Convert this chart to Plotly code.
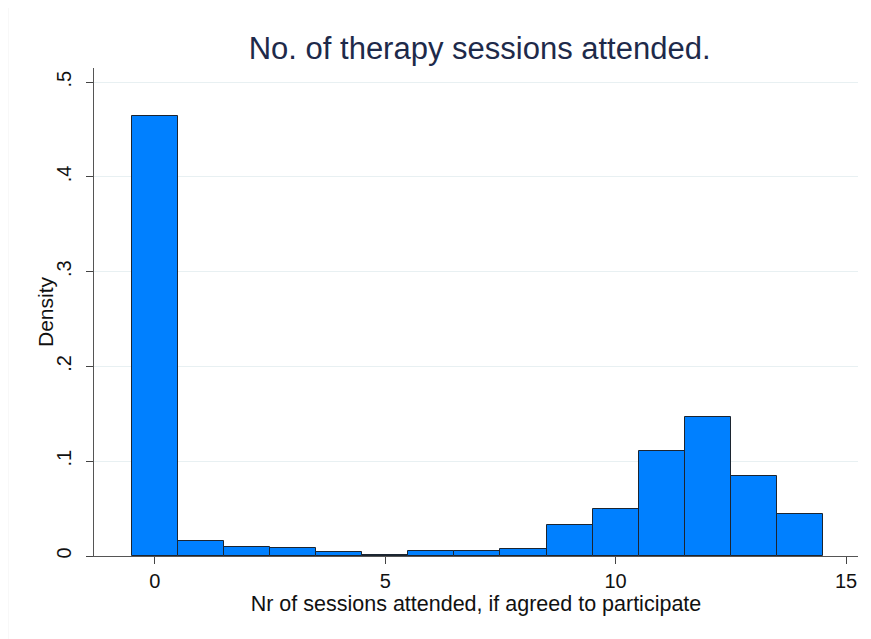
import plotly.graph_objects as go

sessions = [0, 1, 2, 3, 4, 5, 6, 7, 8, 9, 10, 11, 12, 13, 14]
density = [0.464, 0.0158, 0.0095, 0.0084, 0.0042, 0.0015, 0.0053, 0.0053,
           0.0074, 0.0325, 0.0500, 0.1110, 0.1463, 0.0848, 0.0443]
y_ticks = [0, 0.1, 0.2, 0.3, 0.4, 0.5]
y_tick_labels = ["0", ".1", ".2", ".3", ".4", ".5"]
x_ticks = [0, 5, 10, 15]

fig = go.Figure()
fig.add_trace(go.Bar(
    x=sessions, y=density, width=1,
    marker=dict(color="#0080FF", line=dict(color="#1c2530", width=1)),
))

font_fam = "Liberation Sans, Arial, sans-serif"
# page body has an 8px margin, so the figure is sized/offset to compensate
fig.update_layout(
    width=863, height=631,
    margin=dict(l=86, r=13, t=60, b=83),
    paper_bgcolor="white", plot_bgcolor="white",
    showlegend=False,
    bargap=0,
    title=dict(text="No. of therapy sessions attended.", x=0.5465, xanchor="center",
               y=1 - 40/631, yref="container", yanchor="middle",
               font=dict(family=font_fam, size=31, color="#1e2a4a")),
    font=dict(family=font_fam, color="#111111"),
)
fig.update_xaxes(
    range=[-1.32, 15.26], tickvals=x_ticks, ticks="outside", ticklen=7,
    tickcolor="#444444", tickwidth=1, showgrid=False, zeroline=False,
    showline=True, linecolor="#555555", linewidth=1,
    tickfont=dict(size=20, color="#111111"),
    title=dict(text="Nr of sessions attended, if agreed to participate",
               font=dict(size=21.5, color="#111111"), standoff=0),
)
fig.update_yaxes(
    range=[0, 0.515], tickvals=y_ticks, ticktext=y_tick_labels, ticks="outside",
    ticklen=7, tickcolor="#444444", tickwidth=1, tickangle=-90,
    ticklabelstandoff=7,
    showgrid=True, gridcolor="#e8f0f2", gridwidth=1, zeroline=False,
    showline=True, linecolor="#555555", linewidth=1,
    tickfont=dict(size=20, color="#111111"),
)
fig.add_annotation(text="Density", xref="paper", yref="paper",
                   x=(45 - 94) / 764, y=0.5, xanchor="center", yanchor="middle",
                   textangle=-90, showarrow=False,
                   font=dict(size=21, color="#111111", family=font_fam))
fig.add_shape(type="rect", xref="paper", yref="paper",
              x0=(8 - 94) / 764, x1=1 + 40/764, y0=-120/488, y1=1 + 61/488,
              line=dict(color="#f2f2f2", width=1), fillcolor="rgba(0,0,0,0)",
              layer="below")
fig.write_html("out.html")
